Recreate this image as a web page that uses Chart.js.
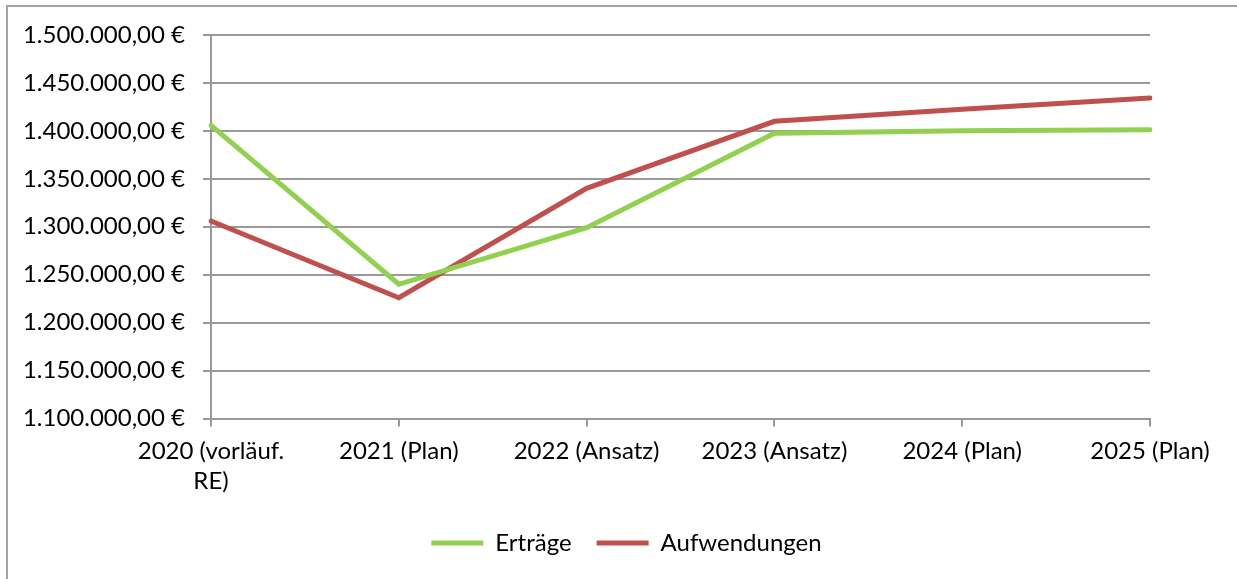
<!DOCTYPE html>
<html>
<head>
<meta charset="utf-8">
<script src="https://cdn.jsdelivr.net/npm/chart.js@4"></script>
<style>
	body { margin: 0; background: #fff; }
	#frame { position: absolute; left: 6px; top: 5px; width: 1240px; height: 580px;
		border-left: 2px solid #a3a3a3; border-top: 2px solid #a3a3a3; }
	#chart-area { position: absolute; left: 0; top: 0; }
</style>
</head>
<body>
<div id="frame"></div>
<canvas id="chart-area" width="1237" height="579"></canvas>
<script>
// Kategorien (Jahre)
var categories = [['2020 (vorläuf.', 'RE)'], '2021 (Plan)', '2022 (Ansatz)', '2023 (Ansatz)', '2024 (Plan)', '2025 (Plan)'];

// Werte in Euro
var ertraege = [1405800, 1240000, 1299000, 1397500, 1400200, 1401300];
var aufwendungen = [1306000, 1226000, 1340000, 1410000, 1422500, 1434400];

// y-Achse
var yMin = 1100000;
var yMax = 1500000;
var yStep = 50000;

function formatEuro(v)
{
	var parts = Math.round(v).toString().replace(/\B(?=(\d{3})+(?!\d))/g, '.');
	return parts + ',00 €';
}

Chart.defaults.font.family = 'Lato, "Noto Sans", sans-serif';
Chart.defaults.font.size = 24;
Chart.defaults.color = '#000';

var config = {
	type: 'line',
	data: {
		labels: categories,
		datasets: [{
			label: 'Erträge',
			data: ertraege,
			borderColor: '#92d050',
			backgroundColor: '#92d050',
			borderWidth: 5,
			borderCapStyle: 'round',
			pointRadius: 0,
			tension: 0
		}, {
			label: 'Aufwendungen',
			data: aufwendungen,
			borderColor: '#c0504d',
			backgroundColor: '#c0504d',
			borderWidth: 5,
			borderCapStyle: 'round',
			pointRadius: 0,
			tension: 0
		}]
	},
	options: {
		responsive: false,
		animation: false,
		layout: {
			padding: { left: 16, right: 0, top: 35, bottom: 14 }
		},
		scales: {
			x: {
				offset: false,
				grid: { drawOnChartArea: false, drawTicks: true, tickLength: 8, color: '#999', lineWidth: 2 },
				border: { color: '#999', width: 2 },
				ticks: { padding: 10, maxRotation: 0, autoSkip: false, font: { lineHeight: 1.25 } },
				afterFit: function (scale) { scale.height = 87.5; }
			},
			y: {
				min: yMin,
				max: yMax,
				grid: { color: '#999', lineWidth: 2, tickLength: 8 },
				border: { color: '#999', width: 2 },
				ticks: {
					stepSize: yStep,
					padding: 18,
					callback: function (value) { return formatEuro(value); }
				},
				afterFit: function (scale) { scale.width = 195; }
			},
			// leere Achse rechts, damit die Legende mittig sitzt
			yRight: {
				position: 'right',
				display: true,
				grid: { display: false },
				border: { display: false },
				ticks: { display: false },
				afterFit: function (scale) { scale.width = 87; }
			}
		},
		plugins: {
			tooltip: { enabled: false },
			legend: {
				position: 'bottom',
				labels: {
					boxWidth: 52,
					boxHeight: 5,
					padding: 25,
					generateLabels: function (chart) {
						var items = Chart.defaults.plugins.legend.labels.generateLabels(chart);
						items.forEach(function (it) { it.lineWidth = 0; });
						return items;
					}
				}
			}
		}
	}
};

var ctx = document.getElementById('chart-area');
var lineChart = new Chart(ctx, config);
</script>
</body>
</html>
